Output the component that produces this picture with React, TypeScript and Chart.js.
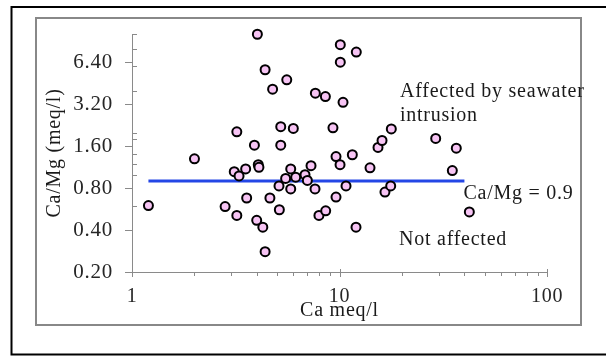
import React, { useEffect, useRef } from "react";
import { Chart, registerables } from "chart.js";

Chart.register(...registerables);

// Ca (meq/l) values
const caValues = [
  1.2, 2.0, 2.81, 3.11, 3.2, 3.2, 3.28, 3.53, 3.57, 3.89,
  3.99, 4.02, 4.06, 4.09, 4.27, 4.38, 4.38, 4.62, 4.76, 5.11,
  5.13, 5.21, 5.21, 5.5, 5.57, 5.82, 5.82, 5.99, 6.15, 6.82,
  7.0, 7.29, 7.62, 7.65, 7.96, 8.55, 8.58, 9.3, 9.62, 9.62,
  10.06, 10.09, 10.09, 10.4, 10.75, 11.53, 12.01, 12.05, 14.03, 15.33,
  16.03, 16.56, 17.65, 17.77, 29.08, 34.97, 36.55, 42.24,
];
// Ca/Mg ratio values
const ratioValues = [
  0.6, 1.3, 0.59, 1.05, 2.03, 0.51, 0.98, 1.1, 0.68, 1.63,
  0.47, 10.2, 1.18, 1.13, 0.42, 0.28, 5.67, 0.68, 4.11, 0.83,
  0.56, 2.21, 1.63, 0.94, 4.8, 1.1, 0.79, 2.15, 0.96, 1.0,
  0.91, 1.16, 0.79, 3.85, 0.51, 3.64, 0.55, 2.17, 1.35, 0.69,
  1.18, 8.58, 6.43, 3.31, 0.83, 1.39, 0.42, 7.59, 1.12, 1.57,
  1.76, 0.75, 0.83, 2.13, 1.82, 1.07, 1.55, 0.54,
];
// Threshold line Ca/Mg = 0.9
const thresholdX = [1.2, 40];
const thresholdY = [0.9, 0.9];

const xMajorTicks = [1, 10, 100];
const xMinorTicks = [2, 3, 4, 5, 6, 7, 8, 9, 20, 30, 40, 50, 60, 70, 80, 90];
const yMajorTicks = [0.2, 0.4, 0.8, 1.6, 3.2, 6.4];
const yMinorTicks = [0.6, 1.0, 1.2, 1.4, 1.8, 2.0, 4.0, 6.0, 8.0, 10.24];

const xTitle = "Ca meq/l";
const yTitle = "Ca/Mg (meq/l)";
const annotationLines = [
  { text: "Affected by seawater", x: 400, y: 96.5 },
  { text: "intrusion", x: 400, y: 120.5 },
  { text: "Ca/Mg = 0.9", x: 463.5, y: 198.5 },
  { text: "Not affected", x: 399, y: 244.5 },
];

const FONT = "'Liberation Serif', 'Times New Roman', serif";
const AXIS_COLOR = "#8a8a8a";

const framePlugin = {
  id: "frame",
  beforeDraw(chart: any) {
    const ctx = chart.ctx;
    ctx.save();
    ctx.fillStyle = "#ffffff";
    ctx.fillRect(0, 0, chart.width, chart.height);
    ctx.lineWidth = 2;
    ctx.strokeStyle = "#000000";
    ctx.strokeRect(11.5, 7, 700, 347.5);
    ctx.strokeStyle = "#888888";
    ctx.strokeRect(36, 18, 545, 307);
    ctx.restore();
    // slightly wider text, as in the reference rendering
    (ctx as any).letterSpacing = "0.75px";
  },
  afterDraw(chart: any) {
    const ctx = chart.ctx;
    const xs = chart.scales.x;
    const ys = chart.scales.y;
    const area = chart.chartArea;
    ctx.save();
    ctx.strokeStyle = AXIS_COLOR;
    ctx.lineWidth = 1;
    ctx.beginPath();
    xMajorTicks.forEach((v) => {
      const px = Math.round(xs.getPixelForValue(v)) + 0.5;
      ctx.moveTo(px, area.bottom - 3);
      ctx.lineTo(px, area.bottom + 5);
    });
    xMinorTicks.forEach((v) => {
      const px = Math.round(xs.getPixelForValue(v)) + 0.5;
      ctx.moveTo(px, area.bottom);
      ctx.lineTo(px, area.bottom + 4);
    });
    yMajorTicks.forEach((v) => {
      const py = Math.round(ys.getPixelForValue(v)) + 0.5;
      ctx.moveTo(area.left - 7, py);
      ctx.lineTo(area.left, py);
    });
    yMinorTicks.forEach((v) => {
      const py = Math.round(ys.getPixelForValue(v)) + 0.5;
      ctx.moveTo(area.left, py);
      ctx.lineTo(area.left + 5, py);
    });
    ctx.stroke();

    ctx.fillStyle = "#1a1a1a";
    ctx.font = `20px ${FONT}`;
    ctx.textAlign = "left";
    ctx.textBaseline = "alphabetic";
    annotationLines.forEach((a) => ctx.fillText(a.text, a.x, a.y));
    ctx.restore();
  },
};

export default function App() {
  const canvasRef = useRef<HTMLCanvasElement | null>(null);

  useEffect(() => {
    if (!canvasRef.current) return;
    const points = caValues.map((x, i) => ({ x, y: ratioValues[i] }));
    const line = thresholdX.map((x, i) => ({ x, y: thresholdY[i] }));
    const chart = new Chart(canvasRef.current, {
      type: "scatter",
      data: {
        datasets: [
          {
            label: "samples",
            data: points,
            pointRadius: 4.5,
            pointHoverRadius: 4.5,
            pointBorderWidth: 2,
            pointBackgroundColor: "#f7c4f4",
            pointBorderColor: "#000000",
            clip: false,
            order: 0,
          } as any,
          {
            label: "threshold",
            data: line,
            showLine: true,
            borderColor: "#2446e6",
            borderWidth: 3,
            pointRadius: 0,
            order: 1,
          } as any,
        ],
      },
      plugins: [framePlugin],
      options: {
        animation: false,
        responsive: false,
        devicePixelRatio: 1,
        layout: { padding: { left: 36, right: 59, top: 34, bottom: 34 } },
        plugins: {
          legend: { display: false },
          tooltip: { enabled: false },
        },
        scales: {
          x: {
            type: "logarithmic",
            min: 1,
            max: 100,
            afterFit: (s: any) => {
              s.height = 52;
            },
            afterBuildTicks: (s: any) => {
              s.ticks = xMajorTicks.map((v) => ({ value: v }));
            },
            grid: { display: false, drawTicks: false },
            border: { display: true, color: AXIS_COLOR, width: 1 },
            ticks: {
              autoSkip: false,
              maxRotation: 0,
              padding: 13,
              color: "#262626",
              font: { family: FONT, size: 20 },
              callback: (v: any) => String(v),
            },
            title: {
              display: true,
              text: xTitle,
              color: "#1a1a1a",
              font: { family: FONT, size: 20 },
              padding: { top: 0, bottom: 1 },
            },
          },
          y: {
            type: "logarithmic",
            min: 0.2,
            max: 10.24,
            afterFit: (s: any) => {
              s.width = 96;
            },
            afterBuildTicks: (s: any) => {
              s.ticks = yMajorTicks.map((v) => ({ value: v }));
            },
            grid: { display: false, drawTicks: false },
            border: { display: true, color: AXIS_COLOR, width: 1 },
            ticks: {
              autoSkip: false,
              padding: 19,
              color: "#262626",
              font: { family: FONT, size: 21 },
              callback: (v: any) => Number(v).toFixed(2),
            },
            title: {
              display: true,
              text: yTitle,
              color: "#1a1a1a",
              font: { family: FONT, size: 20 },
              padding: { top: 7, bottom: 0 },
            },
          },
        },
      },
    });
    return () => chart.destroy();
  }, []);

  return (
    <div style={{ position: "fixed", left: 0, top: 0, width: 606, height: 358, background: "#fff" }}>
      <canvas ref={canvasRef} width={606} height={358} style={{ display: "block" }} />
    </div>
  );
}
